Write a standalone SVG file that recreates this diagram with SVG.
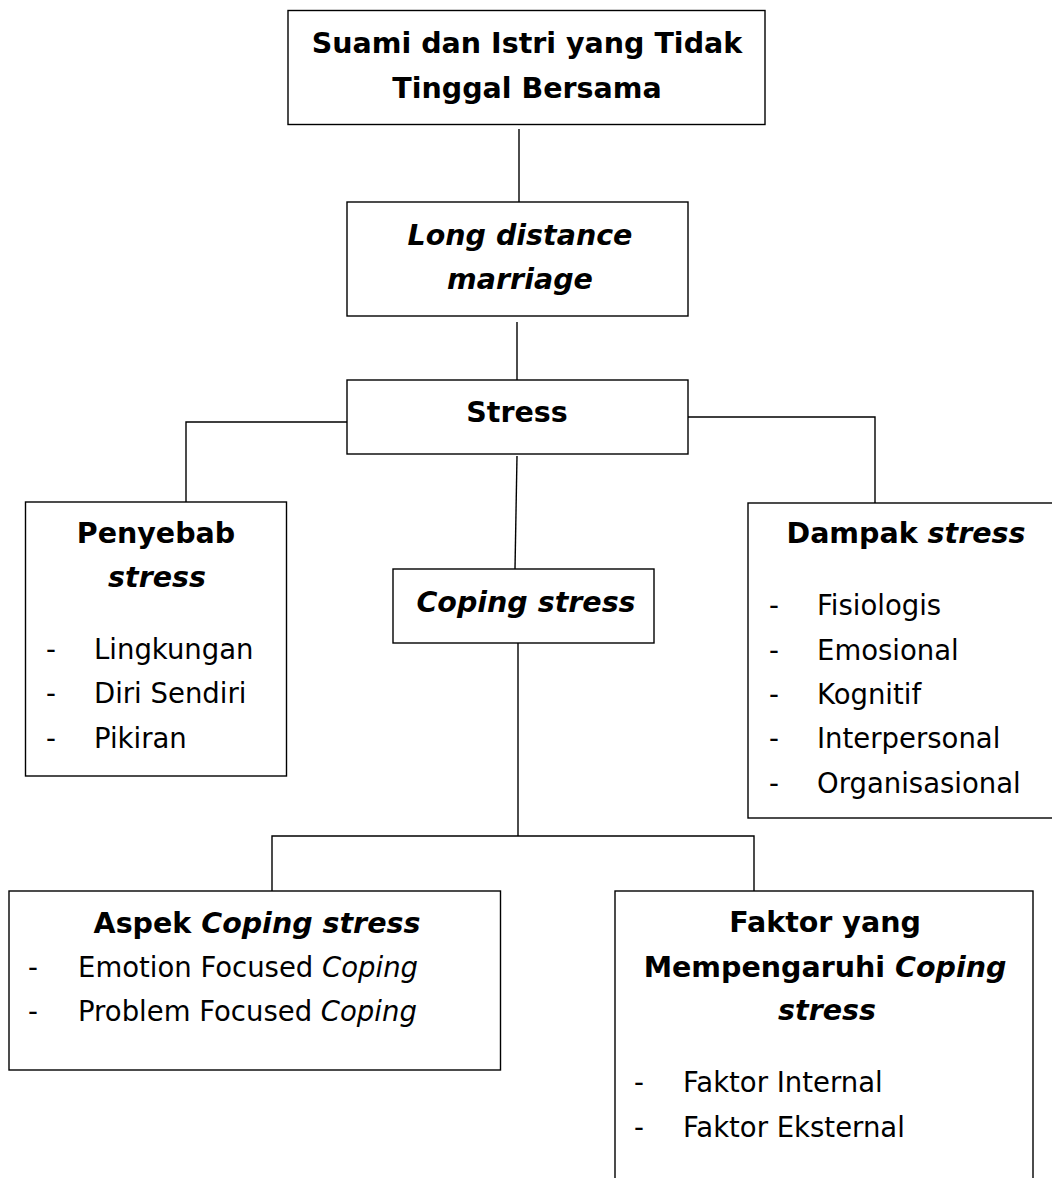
<svg xmlns="http://www.w3.org/2000/svg" width="1052" height="1178" viewBox="0 0 1052 1178">
<style>
.box{fill:#fff;stroke:#000;stroke-width:1.4}
.con{fill:none;stroke:#000;stroke-width:1.4}
text{font-family:"DejaVu Sans","Verdana",sans-serif;fill:#000}
.h{font-size:28.5px;font-weight:bold;text-anchor:middle}
.r{font-size:27.5px}
.i{font-style:italic}
</style>
<rect width="1052" height="1178" fill="#fff"/>
<g id="connectors">
<path class="con" d="M519 129V202"/>
<path class="con" d="M517 322V380"/>
<path class="con" d="M347 422H186V502"/>
<path class="con" d="M688 417H875V503"/>
<path class="con" d="M517 456L515 569"/>
<path class="con" d="M518 643V836"/>
<path class="con" d="M272 891V836H754V891"/>
</g>
<g id="n-suami">
<rect class="box" x="288" y="10.5" width="477" height="114"/>
<text class="h" x="527" y="53">Suami dan Istri yang Tidak</text>
<text class="h" x="527" y="98">Tinggal Bersama</text>
</g>
<g id="n-ldm">
<rect class="box" x="347" y="202" width="341" height="114"/>
<text class="h i" x="520" y="245">Long distance</text>
<text class="h i" x="520" y="289">marriage</text>
</g>
<g id="n-stress">
<rect class="box" x="347" y="380" width="341" height="74"/>
<text class="h" x="517" y="422">Stress</text>
</g>
<g id="n-penyebab">
<rect class="box" x="25.5" y="502" width="261" height="274"/>
<text class="h" x="156" y="543">Penyebab</text>
<text class="h i" x="157" y="587">stress</text>
<text class="r" x="46" y="659">-</text><text class="r" x="94" y="659">Lingkungan</text>
<text class="r" x="46" y="703">-</text><text class="r" x="94" y="703">Diri Sendiri</text>
<text class="r" x="46" y="748">-</text><text class="r" x="94" y="748">Pikiran</text>
</g>
<g id="n-coping">
<rect class="box" x="393" y="569" width="261" height="74"/>
<text class="h i" x="526" y="612">Coping stress</text>
</g>
<g id="n-dampak">
<rect class="box" x="748" y="503" width="320" height="315"/>
<text class="h" x="906" y="543">Dampak <tspan class="i">stress</tspan></text>
<text class="r" x="769" y="615">-</text><text class="r" x="817" y="615">Fisiologis</text>
<text class="r" x="769" y="660">-</text><text class="r" x="817" y="660">Emosional</text>
<text class="r" x="769" y="704">-</text><text class="r" x="817" y="704">Kognitif</text>
<text class="r" x="769" y="748">-</text><text class="r" x="817" y="748">Interpersonal</text>
<text class="r" x="769" y="793">-</text><text class="r" x="817" y="793">Organisasional</text>
</g>
<g id="n-aspek">
<rect class="box" x="9" y="891" width="491.5" height="179"/>
<text class="h" x="257" y="933">Aspek <tspan class="i">Coping stress</tspan></text>
<text class="r" x="28" y="977">-</text><text class="r" x="78" y="977">Emotion Focused <tspan class="i">Coping</tspan></text>
<text class="r" x="28" y="1021">-</text><text class="r" x="78" y="1021">Problem Focused <tspan class="i">Coping</tspan></text>
</g>
<g id="n-faktor">
<rect class="box" x="615" y="891" width="418" height="310"/>
<text class="h" x="825" y="932">Faktor yang</text>
<text class="h" x="825" y="977">Mempengaruhi <tspan class="i">Coping</tspan></text>
<text class="h i" x="827" y="1020">stress</text>
<text class="r" x="634" y="1092">-</text><text class="r" x="683" y="1092">Faktor Internal</text>
<text class="r" x="634" y="1137">-</text><text class="r" x="683" y="1137">Faktor Eksternal</text>
</g>
</svg>
